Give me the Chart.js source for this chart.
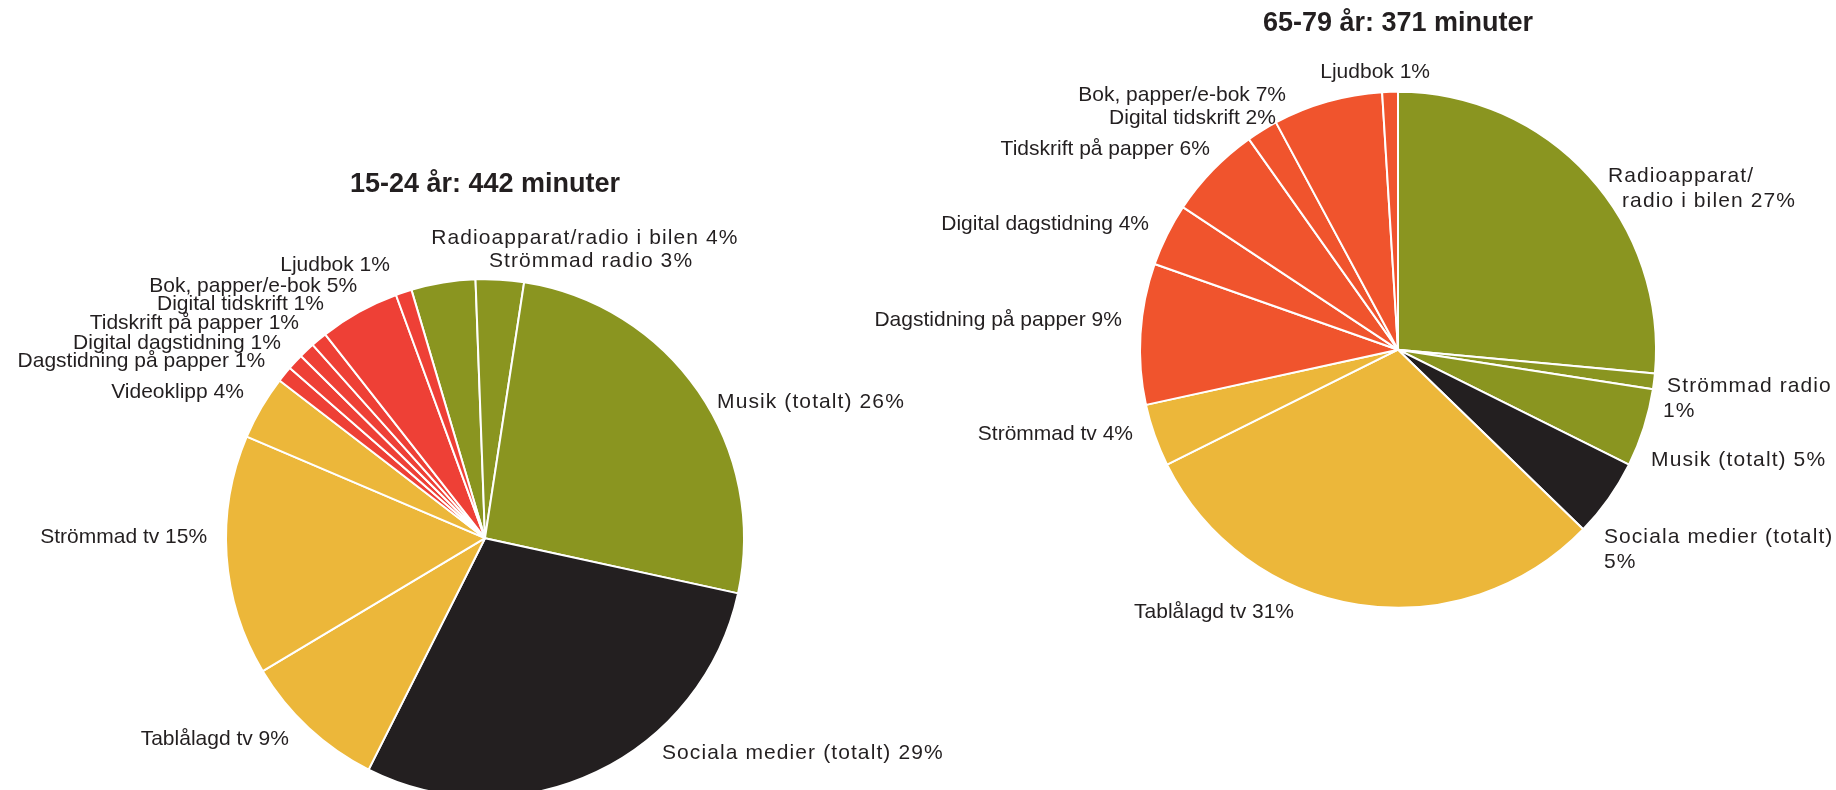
<!DOCTYPE html>
<html lang="sv">
<head>
<meta charset="UTF-8">
<title>Medietid per dag</title>
<script src="https://cdn.jsdelivr.net/npm/chart.js"></script>
<style>
    body { margin: 0; background: #fff; overflow: hidden; width: 1836px; height: 790px; position: relative; }
    .pie { position: absolute; top: 0; left: 0; width: 1836px; height: 900px; }
</style>
</head>
<body>
<div class="pie"><canvas id="chart15"></canvas></div>
<div class="pie"><canvas id="chart65"></canvas></div>

<script>
    // 15-24 år, slices clockwise from the radio slice
    const categories15 = ['Radioapparat/radio i bilen', 'Strömmad radio', 'Musik (totalt)', 'Sociala medier (totalt)',
        'Tablålagd tv', 'Strömmad tv', 'Videoklipp', 'Dagstidning på papper', 'Digital dagstidning',
        'Tidskrift på papper', 'Digital tidskrift', 'Bok, papper/e-bok', 'Ljudbok'];
    const values15 = [4, 3, 26, 29, 9, 15, 4, 1, 1, 1, 1, 5, 1];

    // 65-79 år
    const categories65 = ['Radioapparat/radio i bilen', 'Strömmad radio', 'Musik (totalt)', 'Sociala medier (totalt)',
        'Tablålagd tv', 'Strömmad tv', 'Dagstidning på papper', 'Digital dagstidning',
        'Tidskrift på papper', 'Digital tidskrift', 'Bok, papper/e-bok', 'Ljudbok'];
    const values65 = [27, 1, 5, 5, 31, 4, 9, 4, 6, 2, 7, 1];

    const title15 = '15-24 år: 442 minuter';
    const title65 = '65-79 år: 371 minuter';

    const groupOf = {
        'Radioapparat/radio i bilen': 'ljud', 'Strömmad radio': 'ljud', 'Musik (totalt)': 'ljud',
        'Sociala medier (totalt)': 'social',
        'Tablålagd tv': 'tv', 'Strömmad tv': 'tv', 'Videoklipp': 'tv',
        'Dagstidning på papper': 'text', 'Digital dagstidning': 'text', 'Tidskrift på papper': 'text',
        'Digital tidskrift': 'text', 'Bok, papper/e-bok': 'text', 'Ljudbok': 'text'
    };
    const colors15 = { ljud: '#8a9520', social: '#231f20', tv: '#ecb73a', text: '#ee4036' };
    const colors65 = { ljud: '#8a9520', social: '#231f20', tv: '#ecb73a', text: '#f0542d' };

    // label anchors, relative to pie centre in units of the radius
    const layout15 = [
        { align: 'left', dx: -0.208, dy: -1.158 },
        { align: 'left', dx: 0.015, dy: -1.069 },
        { align: 'left', dx: 0.896, dy: -0.525 },
        { align: 'left', dx: 0.683, dy: 0.830 },
        { align: 'right', dx: -0.757, dy: 0.776 },
        { align: 'right', dx: -1.073, dy: -0.004 },
        { align: 'right', dx: -0.931, dy: -0.564 },
        { align: 'right', dx: -0.849, dy: -0.683 },
        { align: 'right', dx: -0.788, dy: -0.753 },
        { align: 'right', dx: -0.718, dy: -0.830 },
        { align: 'right', dx: -0.622, dy: -0.903 },
        { align: 'right', dx: -0.494, dy: -0.973 },
        { align: 'right', dx: -0.367, dy: -1.054 }
    ];
    const layout65 = [
        { align: 'left', dx: 0.814, dy: -0.671, breakAfter: 'Radioapparat/', indent: 14 },
        { align: 'left', dx: 1.043, dy: 0.140, breakAfter: 'Strömmad radio', indent: -4 },
        { align: 'left', dx: 0.981, dy: 0.430 },
        { align: 'left', dx: 0.798, dy: 0.725, breakAfter: 'Sociala medier (totalt)' },
        { align: 'right', dx: -0.403, dy: 1.016 },
        { align: 'right', dx: -1.027, dy: 0.326 },
        { align: 'right', dx: -1.070, dy: -0.116 },
        { align: 'right', dx: -0.965, dy: -0.488 },
        { align: 'right', dx: -0.729, dy: -0.779 },
        { align: 'right', dx: -0.473, dy: -0.899 },
        { align: 'right', dx: -0.434, dy: -0.988 },
        { align: 'right', dx: 0.124, dy: -1.074 }
    ];

    function sliceLabels(layout) {
        return {
            id: 'sliceLabels',
            afterDatasetsDraw(chart) {
                const arc = chart.getDatasetMeta(0).data[0];
                const cx = arc.x, cy = arc.y, r = arc.outerRadius;
                const ctx = chart.ctx;
                ctx.save();
                ctx.font = '21px "Liberation Sans", Arial, sans-serif';
                ctx.fillStyle = '#231f20';
                ctx.textBaseline = 'middle';
                chart.data.labels.forEach((name, i) => {
                    const pos = layout[i];
                    const text = name + ' ' + chart.data.datasets[0].data[i] + '%';
                    let lines = [text];
                    if (pos.breakAfter) {
                        const n = pos.breakAfter.length;
                        lines = [text.slice(0, n), text.slice(n).trim()];
                    }
                    // labels to the right of the pie are set with wider tracking
                    ctx.letterSpacing = pos.align === 'left' ? '1.1px' : '0px';
                    ctx.textAlign = pos.align;
                    lines.forEach((line, k) => {
                        ctx.fillText(line, cx + pos.dx * r + (k ? (pos.indent || 0) : 0), cy + pos.dy * r + k * 25);
                    });
                });
                ctx.restore();
            }
        };
    }

    function makePie(id, cats, vals, palette, layout, title, rotation, radius, padding) {
        return new Chart(document.getElementById(id), {
            type: 'pie',
            data: {
                labels: cats,
                datasets: [{
                    data: vals,
                    backgroundColor: cats.map(c => palette[groupOf[c]]),
                    borderColor: '#ffffff',
                    borderWidth: 2,
                    hoverOffset: 0,
                    radius: radius
                }]
            },
            options: {
                responsive: true,
                maintainAspectRatio: false,
                animation: false,
                events: [],
                rotation: rotation,
                layout: { padding: padding },
                plugins: {
                    legend: { display: false },
                    tooltip: { enabled: false },
                    title: {
                        display: true,
                        text: title,
                        color: '#231f20',
                        font: { family: '"Liberation Sans", Arial, sans-serif', size: 27, weight: 'bold', lineHeight: 1.2 },
                        padding: { top: 0, bottom: 0 }
                    }
                }
            },
            plugins: [sliceLabels(layout)]
        });
    }

    makePie('chart15', categories15, values15, colors15, layout15, title15, -16.5, 259,
        { left: 100, right: 966, top: 168, bottom: 24 });
    makePie('chart65', categories65, values65, colors65, layout65, title65, 0, 258,
        { left: 1000, right: 40, top: 7, bottom: 240 });
</script>
</body>
</html>
